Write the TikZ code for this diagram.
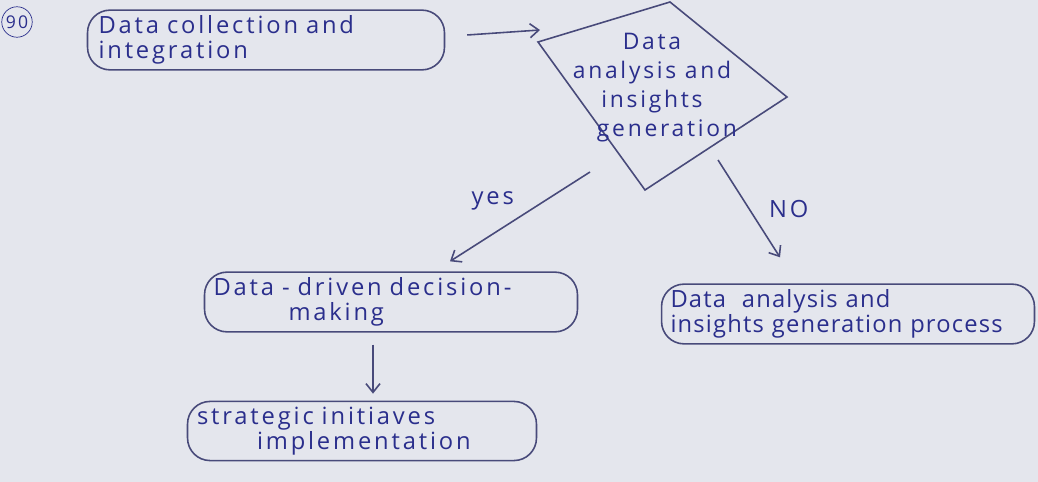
\documentclass[tikz,border=0pt]{standalone}
\usepackage{fontspec}
\setmainfont{Open Sans}
\newfontfamily\handfont[LetterSpace=12]{Open Sans}
\newfontfamily\handtight[LetterSpace=5]{Open Sans}
\usepackage{xcolor}
\usetikzlibrary{arrows.meta,calc,positioning}
\definecolor{paper}{RGB}{228,230,237}
\definecolor{ink}{RGB}{42,46,140}
\definecolor{pen}{RGB}{72,74,122}

\begin{document}
\begin{tikzpicture}[x=0.02cm,y=-0.02cm]
	
	% Definitions.
	\tikzstyle{every node}=[
		inner sep=3pt,
		text=ink,
		font=\handfont\fontsize{13.5}{14.5}\selectfont
	]
	\tikzstyle{stepbox}=[draw=pen, line width=0.9pt, rounded corners=0.45cm, minimum height=1.15cm, align=left]
	\tikzstyle{penline}=[draw=pen, line width=0.9pt]
	\def\myarrow{Straight Barb[width=8pt,length=5pt]};
	
	% ---------- Paper ---------
	
	\fill[paper] (0,0) rectangle (1038,482);
	\useasboundingbox (0,0) rectangle (1038,482);
	
	\node[draw=ink, circle, inner sep=1pt, minimum size=0.5cm, font=\handfont\fontsize{10}{10}\selectfont] (num) at (17,22) {90};
	
	% ------------ Boxes -----------
	
	\node[stepbox, minimum width=7.14cm, text width=6.7cm] (collect) at (266,40) {Data collection and\\integration};
	\node[stepbox, minimum width=7.46cm, text width=7.1cm] (driven) at (391,302) {Data - driven decision-\\\hspace*{1.5cm}making};
	\node[stepbox, minimum width=6.98cm, text width=6.6cm] (strategic) at (362,431) {strategic initiaves\\\hspace*{1.2cm}implementation};
	\node[stepbox, minimum width=7.46cm, text width=7.1cm, font=\handtight\fontsize{13.5}{14.5}\selectfont] (process) at (848,314) {Data \ analysis and\\insights generation process};
	
	% ================== DECISION ==================
	
	\coordinate (dtop) at (670,2);
	\coordinate (dright) at (787,97);
	\coordinate (dbottom) at (645,190);
	\coordinate (dleft) at (538,42);
	\draw[penline] (dleft) -- (dtop) -- (dright) -- (dbottom) -- cycle;
	\node[align=center, font=\handfont\fontsize{13}{16.5}\selectfont] (analysis) at (652,88) {Data\\analysis and\\insights\\\hspace*{0.6cm}generation};
	
	% Arrows.
	\coordinate (yesstart) at (590,172);
	\coordinate (nostart) at (718,160);
	\draw[penline, -{\myarrow}] ([shift={(22,-5)}]collect.east) -- ([shift={(2,-12)}]dleft);
	\draw[penline, -{\myarrow}] (yesstart) -- node[above left=0pt] {yes} ([shift={(59,-10)}]driven.north);
	\draw[penline, -{\myarrow}] (nostart) -- node[right=8pt] {NO} ([shift={(-68,-26)}]process.north);
	\draw[penline, -{\myarrow}] ([shift={(-18,12)}]driven.south) -- ([shift={(11,-7)}]strategic.north);
	
\end{tikzpicture}
\end{document}
